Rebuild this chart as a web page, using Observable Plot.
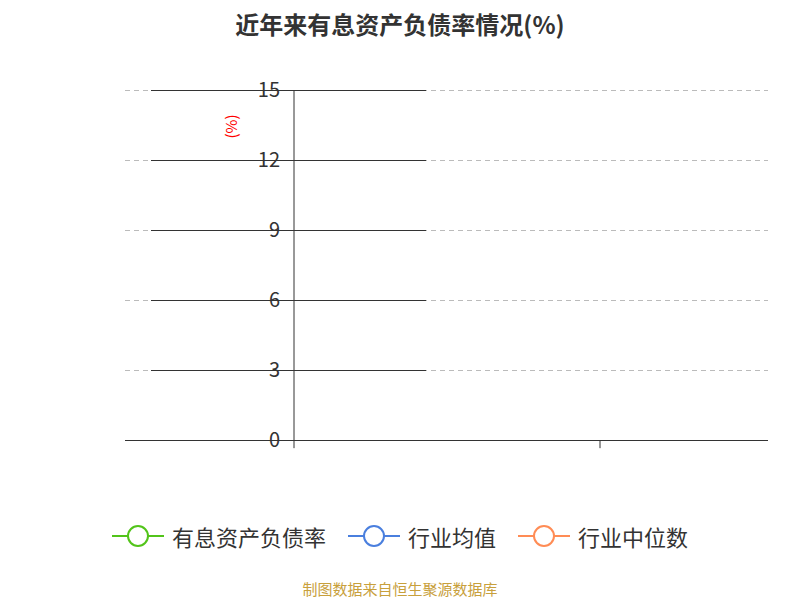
<!DOCTYPE html>
<html><head><meta charset="utf-8">
<script src="https://cdn.jsdelivr.net/npm/d3@7"></script>
<script src="https://cdn.jsdelivr.net/npm/@observablehq/plot@0.6"></script>
<style>
body{margin:0;width:800px;height:600px;font-family:"Noto Sans CJK SC","Noto Sans",sans-serif;background:#fff;position:relative}
#title{position:absolute;top:6px;width:800px;text-align:center;font-size:24px;font-weight:bold;color:#333}
#chart{position:absolute;top:60px;left:0}
#legend{position:absolute;top:520px;width:800px;display:flex;justify-content:center;gap:22px;font-size:22px;color:#333}
#legend span{display:flex;align-items:center;gap:8px}
#cap{position:absolute;top:578px;width:800px;text-align:center;font-size:15px;color:#c8a03c}
</style></head><body>
<div id="title">近年来有息资产负债率情况(%)</div>
<div id="chart"></div>
<div id="legend"></div>
<div id="cap">制图数据来自恒生聚源数据库</div>
<script>
const categories=["2021","2022","2023","2024","2025","2026H1"];
const debtRate=[6.45,6.84,6.46,6.95,6.58,6.52];
const industryAvg=[11.25,12.55,11.4,12.05,13.0];
const industryMed=[3.95,6.55,7.0,8.35,12.1];
const yTicks=[0,3,6,9,12,15];
const names=["有息资产负债率","行业均值","行业中位数"];
const colors=["#52c41a","#4a7fde","#ff8c55"];
const mk=(arr,s)=>arr.map((v,i)=>({i,v,s}));
const s1=mk(debtRate,names[0]),s2=mk(industryAvg,names[1]),s3=mk(industryMed,names[2]);
const bounds=d3.range(categories.length+1).map(i=>i-0.5);
const plot=Plot.plot({
 width:800,height:420,marginLeft:125,marginRight:32,marginTop:30,marginBottom:40,
 x:{domain:[-0.5,categories.length-0.5],axis:null},
 y:{domain:[0,15],axis:null},
 style:{fontFamily:"Noto Sans CJK SC, Noto Sans, sans-serif"},
 marks:[
  Plot.ruleY(yTicks.filter(t=>t>0),{y:d=>d,stroke:"#bbb",strokeDasharray:"5,4"}),
  Plot.ruleY([0],{stroke:"#333"}),
  Plot.ruleX([-0.5],{y1:0,y2:15,stroke:"#333"}),
  Plot.tickY(yTicks,{y:d=>d,x:-0.5,dx:-5,stroke:"#333"}),
  Plot.text(yTicks,{y:d=>d,x:-0.5,dx:-14,textAnchor:"end",text:d=>d,fontSize:20,fill:"#333"}),
  Plot.ruleX(bounds,{x:d=>d,y1:0,y2:-0.35,stroke:"#333"}),
  Plot.text(categories,{x:(d,i)=>i,y:0,dy:26,text:d=>d,fontSize:20,fill:"#333"}),
  Plot.text(["(%)"],{x:-0.5,y:15,dx:-62,dy:36,rotate:-90,text:d=>d,fill:"red",fontSize:15}),
  Plot.line(s3,{x:"i",y:"v",stroke:colors[2],strokeWidth:3}),
  Plot.line(s2,{x:"i",y:"v",stroke:colors[1],strokeWidth:3}),
  Plot.line(s1,{x:"i",y:"v",stroke:colors[0],strokeWidth:3}),
  Plot.dot(s3,{x:"i",y:"v",r:4,fill:"#fff",stroke:colors[2],strokeWidth:1.5}),
  Plot.dot(s2,{x:"i",y:"v",r:4,fill:"#fff",stroke:colors[1],strokeWidth:1.5}),
  Plot.dot(s1,{x:"i",y:"v",r:4,fill:"#fff",stroke:colors[0],strokeWidth:1.5}),
  Plot.text(s1,{x:"i",y:"v",text:d=>d.v.toFixed(2),fontSize:21,fill:"#111"})
 ]
});
document.getElementById("chart").appendChild(plot);
const lg=document.getElementById("legend");
names.forEach((n,k)=>{lg.innerHTML+=`<span><svg width="52" height="24"><line x1="0" y1="12" x2="52" y2="12" stroke="${colors[k]}" stroke-width="2"/><circle cx="26" cy="12" r="10" fill="#fff" stroke="${colors[k]}" stroke-width="2"/></svg>${n}</span>`;});
</script></body></html>
